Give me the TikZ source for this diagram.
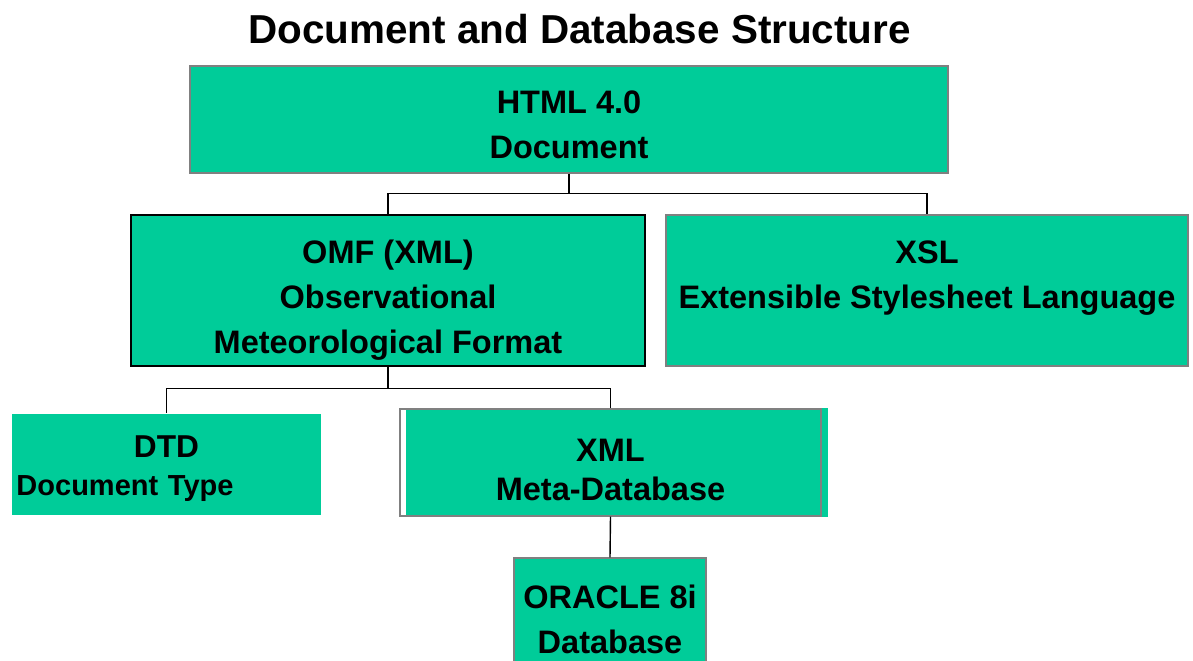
\documentclass[tikz,border=0pt]{standalone}
\usepackage{fontspec}
\setmainfont{Liberation Sans}
\usetikzlibrary{positioning,backgrounds}
\definecolor{boxgreen}{RGB}{0,204,153}

\begin{document}
\begin{tikzpicture}[
    box/.style={fill=boxgreen, draw=gray, line width=0.6pt, align=center,
      font=\fontsize{18.5}{25.5}\selectfont\bfseries, inner sep=2pt},
    link/.style={draw=black, line width=1.1pt},
    thinlink/.style={draw=black, line width=0.6pt}]
    \useasboundingbox (0,0) rectangle (23.86,-13.22);
    % ---- Title ----
    \node[font=\fontsize{23}{28}\selectfont\bfseries] (title) at (11.59,-0.58) {Document and Database Structure};
    % ---- Top level ----
    \node[box, minimum width=15.16cm, minimum height=2.14cm, text height=1.74cm, text depth=0.2cm] (html) at (11.38,-2.39)
      {HTML 4.0\\Document};
    % ---- Second level ----
    \node[box, draw=black, line width=1.4pt, minimum width=10.28cm, minimum height=3.02cm,
      text height=2.6cm, text depth=0.1cm] (omf) at (7.76,-5.81)
      {OMF (XML)\\Observational\\Meteorological Format};
    \node[box, minimum width=10.44cm, minimum height=3.02cm, text height=1.0cm, text depth=0.3cm] (xsl) at (18.54,-5.81)
      {XSL\\Extensible Stylesheet Language};
    % ---- Third level ----
    \node[box, draw=none, minimum width=6.18cm, minimum height=2.02cm, text width=6.0cm, align=left,
      text height=0.5cm, text depth=0.8cm,
      font=\fontsize{16.5}{22}\selectfont\bfseries] (dtd) at (3.33,-9.29)
      {\makebox[\hsize]{\fontsize{18}{22}\selectfont DTD}\\Document Type};
    \node[box, fill=none, minimum width=8.42cm, minimum height=2.14cm, text height=1.7cm, text depth=0.2cm,
      font=\fontsize{18.5}{22}\selectfont\bfseries] (xml) at (12.21,-9.25) {XML\\Meta-Database};
    \begin{scope}[on background layer]
      \fill[boxgreen] ([xshift=0.14cm]xml.north west) rectangle ([xshift=0.12cm]xml.south east);
    \end{scope}
    % ---- Database ----
    \node[box, minimum width=3.84cm, minimum height=2.44cm] (oracle) at (12.2,-12.38) {ORACLE 8i\\Database};
    % ---- Connectors ----
    \draw[link] (html.south) -- ++(0,-0.4) coordinate (hjoin) -| (omf.north);
    \draw[link] (hjoin) -| (xsl.north);
    \draw[thinlink] (omf.south) -- ++(0,-0.42) coordinate (ojoin) -| (dtd.north);
    \draw[thinlink] (ojoin) -| (xml.north);
    \draw[link, line width=0.8pt] (xml.south) -- (oracle.north);
\end{tikzpicture}
\end{document}
